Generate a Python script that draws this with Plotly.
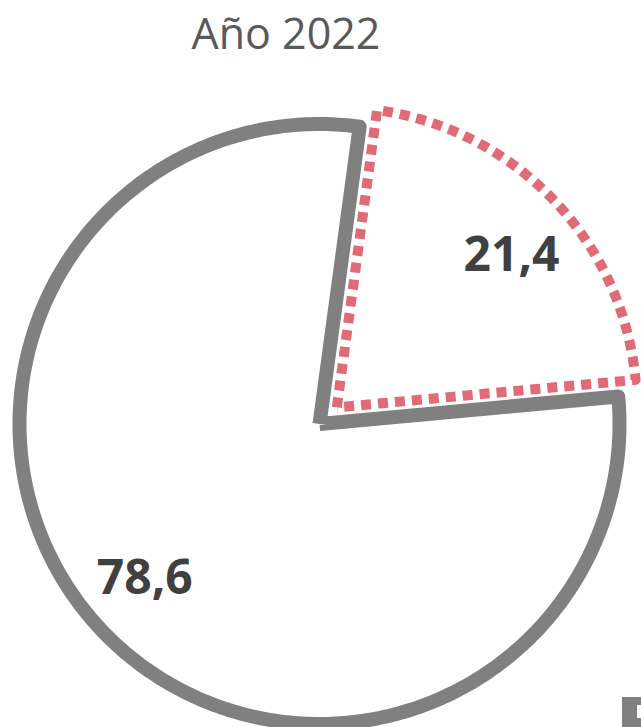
import numpy as np
import plotly.graph_objects as go

# ---- data ----
categories = ["Serie 1", "Serie 2"]
values = [21.4, 78.6]
value_labels = ["21,4", "78,6"]
pulled = [1, 0]
title_text = "Año 2022"

# ---- styles ----
line_colors = ["#E06A76", "#808080"]
line_widths = [10, 14]
line_dashes = ["10px,7px", "solid"]

W, H = 641, 727
CX, CY, R = 319.5, 424, 300    # pie center / radius in pixels
START = 7.7                    # first slice start, degrees clockwise from 12 o'clock
PULL_PX = 24
LABEL_FR = 0.775
LABEL_ROT = 2.5
LABEL_DY = 5

total = sum(values)
geoms = []
angle = START
for i, v in enumerate(values):
    span = v / total * 360.0
    a0, a1 = angle, angle + span
    mid = np.radians((a0 + a1) / 2)
    ox = CX + pulled[i] * PULL_PX * np.sin(mid)
    oy = CY - pulled[i] * PULL_PX * np.cos(mid)
    th = np.radians(np.linspace(a0, a1, 360))
    xs = np.concatenate([[ox], ox + R * np.sin(th), [ox]])
    ys = np.concatenate([[oy], oy - R * np.cos(th), [oy]])
    lm = mid + np.radians(LABEL_ROT)
    lx = ox + LABEL_FR * R * np.sin(lm)
    ly = oy - LABEL_FR * R * np.cos(lm) + LABEL_DY
    geoms.append((xs, ys, lx, ly))
    angle = a1

fig = go.Figure()
for i in reversed(range(len(values))):
    xs, ys, lx, ly = geoms[i]
    fig.add_trace(go.Scatter(
        x=xs, y=ys, mode="lines", fill="toself", fillcolor="white",
        line=dict(color=line_colors[i], width=line_widths[i], dash=line_dashes[i],
                  simplify=False),
        name=categories[i], hoverinfo="skip", showlegend=False))
for i in range(len(values)):
    xs, ys, lx, ly = geoms[i]
    fig.add_trace(go.Scatter(
        x=[lx], y=[ly], mode="text", text=[value_labels[i]],
        textfont=dict(family="Open Sans", size=48, color="#404040", weight="bold"),
        textposition="middle center", hoverinfo="skip", showlegend=False))

# legend symbol fragment at bottom right
fig.add_shape(type="rect", xref="x", yref="y", x0=622, x1=660, y0=697, y1=740,
              fillcolor="#808080", line_width=0, layer="above")
fig.add_shape(type="rect", xref="x", yref="y", x0=637, x1=660, y0=705, y1=718,
              fillcolor="white", line_width=0, layer="above")

fig.update_layout(
    width=W, height=H,
    margin=dict(l=0, r=0, t=0, b=0),
    paper_bgcolor="white", plot_bgcolor="white",
    title=dict(text=title_text, x=286 / W, xanchor="center", y=1 - 34 / H, yanchor="middle",
               font=dict(family="Open Sans", size=43, color="#595959")),
    xaxis=dict(range=[0, W], visible=False, fixedrange=True),
    yaxis=dict(range=[H, 0], visible=False, fixedrange=True),
    showlegend=False,
)

fig.write_html(
    "out.html", config={"displayModeBar": False},
    post_script=(
        "document.body.style.margin='0px';document.body.style.overflow='hidden';"
        "document.querySelectorAll('.scatterlayer .js-line').forEach(function(p){"
        "p.style.strokeLinejoin='round';});"
    ))
